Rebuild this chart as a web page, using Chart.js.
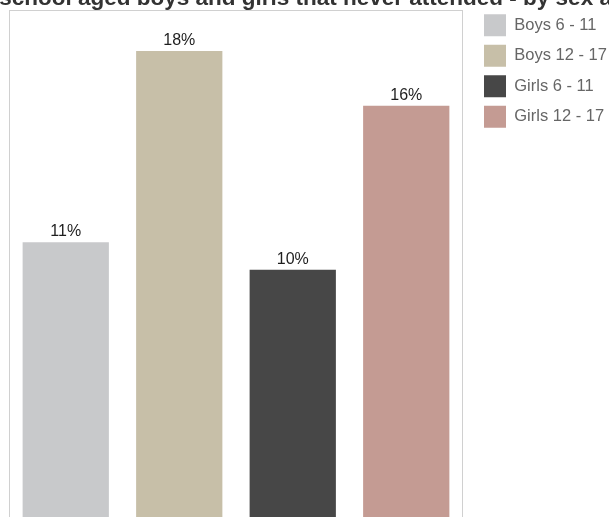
<!DOCTYPE html>
<html>
<head>
<meta charset="utf-8">
<script src="https://cdn.jsdelivr.net/npm/chart.js@4/dist/chart.umd.min.js"></script>
<style>
  html, body { margin: 0; padding: 0; width: 609px; height: 517px; overflow: hidden; background: #ffffff; }
  #wrap { position: relative; width: 609px; height: 517px; overflow: hidden; }
  #title {
    position: absolute; left: -54.5px; top: -12.8px;
    font: bold 22.5px/22.5px "Liberation Sans", Arial, sans-serif;
    color: #333333; white-space: nowrap;
  }
  #chart { position: absolute; left: 0; top: 0; }
</style>
</head>
<body>
<div id="wrap">
  <canvas id="chart" width="620" height="560"></canvas>
  <div id="title">% of school aged boys and girls that never attended - by sex and age</div>
</div>
<script>
// Share of school aged children who never attended, by sex and age group (%)
const groups = ['Boys 6 - 11', 'Boys 12 - 17', 'Girls 6 - 11', 'Girls 12 - 17'];
const neverAttended = [11, 18, 10, 16];
const groupColors = ['#c8c9cb', '#c7bfa8', '#474747', '#c49b93'];
const axisMax = 19.5;

// Light frame around the plotting area
const plotFrame = {
  id: 'plotFrame',
  beforeDatasetsDraw(chart) {
    const { ctx, chartArea: a } = chart;
    ctx.save();
    ctx.strokeStyle = '#d0d0d0';
    ctx.lineWidth = 1;
    ctx.strokeRect(a.left + 0.5, a.top + 0.5, a.right - a.left - 1, a.bottom - a.top);
    ctx.restore();
  }
};

// Percentage labels above each bar
const barValueLabels = {
  id: 'barValueLabels',
  afterDatasetsDraw(chart) {
    const { ctx } = chart;
    ctx.save();
    ctx.font = '16px "Liberation Sans", Arial, sans-serif';
    ctx.fillStyle = '#1e1e1e';
    ctx.textAlign = 'center';
    ctx.textBaseline = 'alphabetic';
    chart.data.datasets.forEach((ds, i) => {
      const bar = chart.getDatasetMeta(i).data[0];
      if (!bar) return;
      ctx.fillText(Math.round(ds.data[0]) + '%', bar.x, bar.y - 6);
    });
    ctx.restore();
  }
};

new Chart(document.getElementById('chart'), {
  type: 'bar',
  data: {
    labels: [''],
    datasets: groups.map((g, i) => ({
      label: g,
      data: [neverAttended[i]],
      backgroundColor: groupColors[i],
      borderWidth: 0
    }))
  },
  options: {
    responsive: false,
    animation: false,
    devicePixelRatio: 1,
    categoryPercentage: 1.0,
    barPercentage: 0.76,
    layout: { padding: { top: 5.8, left: 9, right: 6.5, bottom: 17 } },
    scales: {
      x: {
        position: 'top',
        ticks: { display: false },
        grid: { display: false, tickLength: 4.2 },
        border: { display: false }
      },
      y: {
        position: 'right',
        min: 0,
        max: axisMax,
        ticks: { display: false },
        grid: { display: false, tickLength: 12.5 },
        border: { display: false }
      }
    },
    plugins: {
      title: { display: false },
      tooltip: { enabled: false },
      legend: {
        position: 'right',
        align: 'start',
        maxWidth: 138,
        labels: {
          boxWidth: 22,
          boxHeight: 22,
          padding: 8.5,
          color: '#666666',
          font: { family: '"Liberation Sans", Arial, sans-serif', size: 16.5 }
        }
      }
    }
  },
  plugins: [plotFrame, barValueLabels]
});
</script>
</body>
</html>
